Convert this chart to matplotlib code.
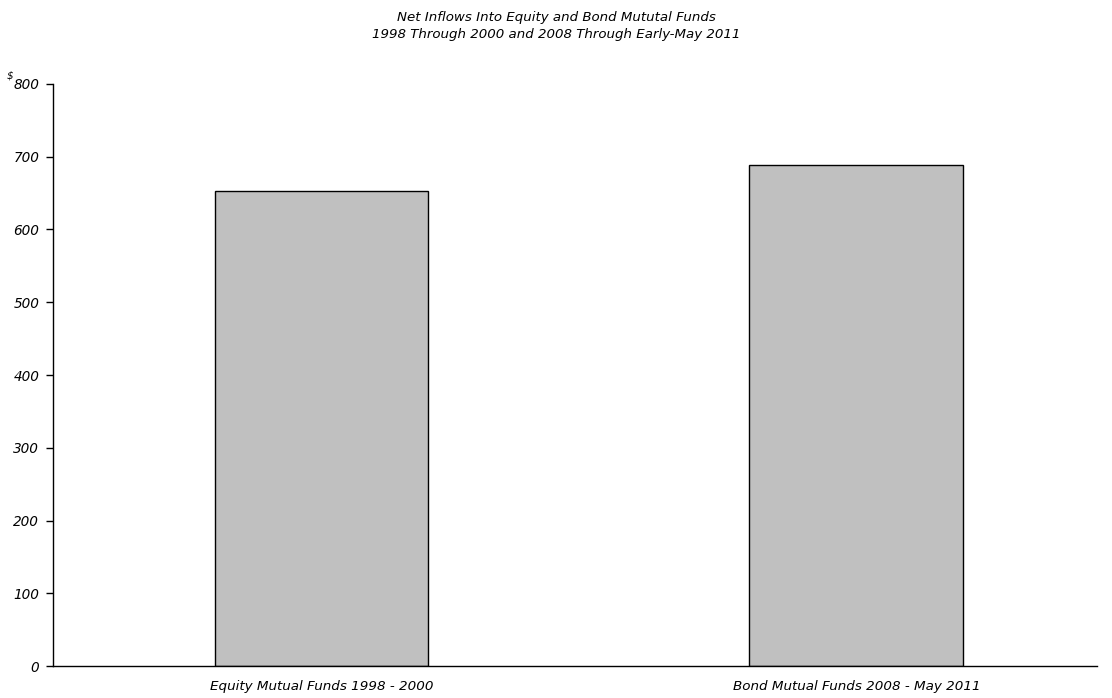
import matplotlib
matplotlib.use("Agg")
import matplotlib.pyplot as plt

categories = ["Equity Mutual Funds 1998 - 2000", "Bond Mutual Funds 2008 - May 2011"]
net_inflows = [653, 689]
y_ticks = [0, 100, 200, 300, 400, 500, 600, 700, 800]
title_lines = ["Net Inflows Into Equity and Bond Mututal Funds",
               "1998 Through 2000 and 2008 Through Early-May 2011"]

plt.rcParams["font.family"] = ["DejaVu Sans"]

fig = plt.figure(figsize=(11.12, 6.98), dpi=100)
ax = fig.add_axes([0.0477, 0.0458, 0.9388, 0.8339])

x = list(range(len(categories)))
ax.bar(x, net_inflows, width=0.40, color="#c0c0c0", edgecolor="black", linewidth=1.0, zorder=2)

ax.set_xlim(-0.502, 1.45)
ax.set_ylim(0, 800)
ax.set_yticks(y_ticks)
ax.set_yticklabels([str(v) for v in y_ticks], fontsize=9.8, style="italic")
ax.set_xticks(x)
ax.set_xticklabels(categories, fontsize=9.7, style="italic")
ax.tick_params(axis="x", length=0, pad=10)
ax.tick_params(axis="y", length=5, width=1, direction="out", pad=5)

for side in ("top", "right"):
    ax.spines[side].set_visible(False)
for side in ("left", "bottom"):
    ax.spines[side].set_linewidth(1.0)

# small dollar sign ahead of the top tick label
ax.annotate("\\$", xy=(0, 800), xycoords=("axes fraction", "data"),
            xytext=(-33.5, 6), textcoords="offset points",
            fontsize=7.5, style="italic", ha="left", va="center")

fig.text(0.5, 0.975, title_lines[0], ha="center", va="center", fontsize=9.6, style="italic")
fig.text(0.5, 0.950, title_lines[1], ha="center", va="center", fontsize=9.6, style="italic")

fig.savefig("out.png", dpi=100)
